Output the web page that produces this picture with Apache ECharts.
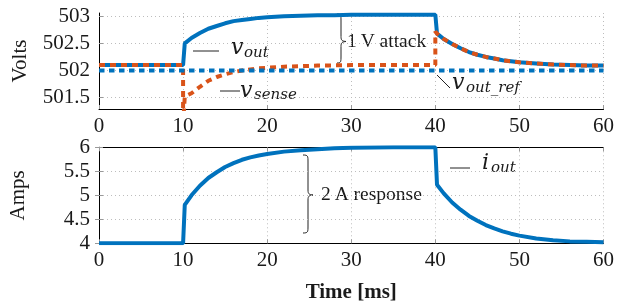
<!DOCTYPE html>
<html><head><meta charset="utf-8">
<script src="https://cdn.jsdelivr.net/npm/echarts@6/dist/echarts.min.js"></script>
<style>html,body{margin:0;padding:0;background:#fff}#c{width:617px;height:305px}</style>
</head><body><div id="c"></div>
<script>
// ---- data ----
const xTicks = [0, 10, 20, 30, 40, 50, 60];
const voltTicks = [501.5, 502, 502.5, 503];
const ampTicks = [4, 4.5, 5, 5.5, 6];

const tOut = [0, 10, 10.2, 11, 12, 13, 14, 15, 16, 17, 18, 19, 20, 22, 24, 26, 28, 30, 35, 40, 40.2, 41, 42, 43, 44, 45, 46, 47, 48, 49, 50, 52, 54, 56, 58, 60];
const vOut = [502.1, 502.1, 502.5, 502.6, 502.69, 502.77, 502.82, 502.87, 502.91, 502.93, 502.95, 502.97, 502.98, 503.0, 503.01, 503.02, 503.02, 503.03, 503.03, 503.03, 502.68, 502.58, 502.49, 502.41, 502.34, 502.29, 502.25, 502.22, 502.19, 502.17, 502.15, 502.13, 502.11, 502.1, 502.09, 502.09];

const tSense = [0, 10, 10, 10.2, 11, 12, 13, 14, 15, 16, 17, 18, 19, 20, 22, 24, 26, 28, 30, 35, 40, 40, 40.2, 41, 42, 43, 44, 45, 46, 47, 48, 49, 50, 52, 54, 56, 58, 60];
const vSense = [502.1, 502.1, 501.0, 501.52, 501.58, 501.70, 501.81, 501.88, 501.93, 501.97, 502.0, 502.02, 502.04, 502.05, 502.07, 502.08, 502.09, 502.095, 502.1, 502.1, 502.1, 502.72, 502.68, 502.58, 502.49, 502.41, 502.34, 502.29, 502.25, 502.22, 502.19, 502.17, 502.15, 502.13, 502.11, 502.1, 502.09, 502.09];

const tRef = [0, 60];
const vRef = [502, 502];

const tI = [0, 10, 10.2, 11, 12, 13, 14, 15, 16, 17, 18, 19, 20, 22, 24, 26, 28, 30, 35, 40, 40.2, 41, 42, 43, 44, 45, 46, 47, 48, 49, 50, 52, 54, 56, 58, 60];
const iOut = [4, 4, 4.8, 5.0, 5.2, 5.36, 5.48, 5.59, 5.67, 5.74, 5.79, 5.83, 5.86, 5.91, 5.94, 5.96, 5.98, 5.99, 6.0, 6.0, 5.22, 5.04, 4.85, 4.70, 4.57, 4.47, 4.38, 4.31, 4.25, 4.20, 4.16, 4.10, 4.065, 4.04, 4.03, 4.02];

// ---- chart ----
const zip = (t, v) => t.map((x, i) => [x, v[i]]);
const BLUE = '#0072BD', ORANGE = '#D95319', TXT = '#1a1a1a';
const SERIF = '"Liberation Serif", "Times New Roman", serif';
const MATH = '"DejaVu Serif", serif';
const lbl = { fontFamily: SERIF, fontSize: 21, color: TXT };
const grid = { lineStyle: { color: '#bdbdbd', width: 1, type: [1, 3] } };
const tick = { show: true, inside: true, length: 4, lineStyle: { color: '#999' } };
const axLine = { show: true, lineStyle: { color: '#000', width: 1 } };
const onlyTicks = (arr) => (v) => arr.some(a => Math.abs(a - v) < 1e-6) ? String(v) : '';

const ST = { stroke: '#222', lineWidth: 1, fill: null };
function seg(x1, y1, x2, y2) { return { type: 'line', shape: { x1, y1, x2, y2 }, style: ST }; }
function bez(x1, y1, cx1, cy1, cx2, cy2, x2, y2) {
  return { type: 'bezierCurve', shape: { x1, y1, cpx1: cx1, cpy1: cy1, cpx2: cx2, cpy2: cy2, x2, y2 }, style: ST };
}
// right-pointing curly brace
function brace(x0, xm, xt, y0, ym, y1) {
  const r = 5;
  return [
    bez(x0, y0, xm, y0, xm, y0 + 1, xm, y0 + r + 2),
    seg(xm, y0 + r + 2, xm, ym - r),
    bez(xm, ym - r, xm, ym - 1, xm + 1, ym - 0.5, xt, ym),
    bez(xt, ym, xm + 1, ym + 0.5, xm, ym + 1, xm, ym + r),
    seg(xm, ym + r, xm, y1 - r - 2),
    bez(xm, y1 - r - 2, xm, y1 - 1, xm, y1, x0, y1)
  ];
}
function txt(x, y, text, font) {
  return { type: 'text', x, y, style: { text, font, fill: TXT, verticalAlign: 'middle', textVerticalAlign: 'middle' } };
}
const BIG = 'italic 22px ' + MATH, SUB = 'italic 15px ' + MATH, NORM = '19.5px ' + SERIF;

const chart = echarts.init(document.getElementById('c'), null, { renderer: 'canvas' });
chart.setOption({
  animation: false,
  grid: [
    { left: 99, right: 12, top: 13, height: 96 },
    { left: 99, right: 12, top: 147.3, height: 96 }
  ],
  xAxis: [
    { gridIndex: 0, type: 'value', min: xTicks[0], max: xTicks[xTicks.length - 1], interval: 10,
      axisLine: axLine, axisTick: tick, splitLine: { show: true, ...grid },
      axisLabel: { ...lbl, margin: 7, formatter: onlyTicks(xTicks) } },
    { gridIndex: 1, type: 'value', min: xTicks[0], max: xTicks[xTicks.length - 1], interval: 10,
      axisLine: axLine, axisTick: tick, splitLine: { show: true, ...grid },
      axisLabel: { ...lbl, margin: 7, formatter: onlyTicks(xTicks) },
      name: 'Time [ms]', nameLocation: 'middle', nameGap: 39,
      nameTextStyle: { fontFamily: SERIF, fontSize: 21, fontWeight: 'bold', color: TXT } },
    { gridIndex: 1, type: 'value', position: 'top', min: 0, max: 60, interval: 10,
      axisLine: axLine, axisTick: tick, splitLine: { show: false }, axisLabel: { show: false } }
  ],
  yAxis: [
    { gridIndex: 0, type: 'value', min: 501.29, max: 503.06, splitNumber: 4,
      axisLine: axLine, axisTick: tick,
      splitLine: { show: true, showMinLine: false, showMaxLine: false, ...grid },
      axisLabel: { ...lbl, margin: 9, showMinLabel: false, showMaxLabel: false, formatter: onlyTicks(voltTicks) },
      name: 'Volts', nameLocation: 'middle', nameGap: 68,
      nameTextStyle: { fontFamily: SERIF, fontSize: 21, color: TXT } },
    { gridIndex: 1, type: 'value', min: ampTicks[0], max: ampTicks[ampTicks.length - 1], interval: 0.5,
      axisLine: axLine, axisTick: tick, splitLine: { show: true, ...grid },
      axisLabel: { ...lbl, margin: 9, formatter: onlyTicks(ampTicks) },
      name: 'Amps', nameLocation: 'middle', nameGap: 70,
      nameTextStyle: { fontFamily: SERIF, fontSize: 21, color: TXT } },
    { gridIndex: 1, type: 'value', position: 'right', min: 4, max: 6, interval: 0.5,
      axisLine: axLine, axisTick: tick, splitLine: { show: false }, axisLabel: { show: false } }
  ],
  series: [
    { name: 'v_out', type: 'line', xAxisIndex: 0, yAxisIndex: 0, data: zip(tOut, vOut),
      showSymbol: false, lineStyle: { color: BLUE, width: 4 }, z: 2 },
    { name: 'v_sense', type: 'line', xAxisIndex: 0, yAxisIndex: 0, data: zip(tSense, vSense),
      showSymbol: false, lineStyle: { color: ORANGE, width: 4, type: [6, 5], cap: 'butt' }, z: 3 },
    { name: 'v_out_ref', type: 'line', xAxisIndex: 0, yAxisIndex: 0, data: zip(tRef, vRef),
      showSymbol: false, lineStyle: { color: BLUE, width: 4, type: [5.5, 4.5], cap: 'butt' }, z: 4 },
    { name: 'i_out', type: 'line', xAxisIndex: 1, yAxisIndex: 1, data: zip(tI, iOut),
      showSymbol: false, lineStyle: { color: BLUE, width: 4 }, z: 2 }
  ],
  graphic: [
    seg(193, 51, 219, 51), txt(231, 48, 'v', BIG), txt(244, 53, 'out', SUB),
    seg(220, 91, 240, 91), txt(240, 91, 'v', BIG), txt(254, 95, 'sense', SUB),
    ...brace(337, 341, 346, 14, 41.5, 63), txt(347, 42, '1\u2009V attack', NORM),
    seg(437, 75, 450, 88), txt(452, 83, 'v', BIG), txt(466, 88, 'out_ref', SUB),
    ...brace(303, 308, 313, 155, 195, 233), txt(321, 195, '2\u2009A response', NORM),
    seg(450, 168, 470, 168), txt(482, 163, 'i', BIG), txt(491, 168, 'out', SUB)
  ]
});
</script></body></html>
